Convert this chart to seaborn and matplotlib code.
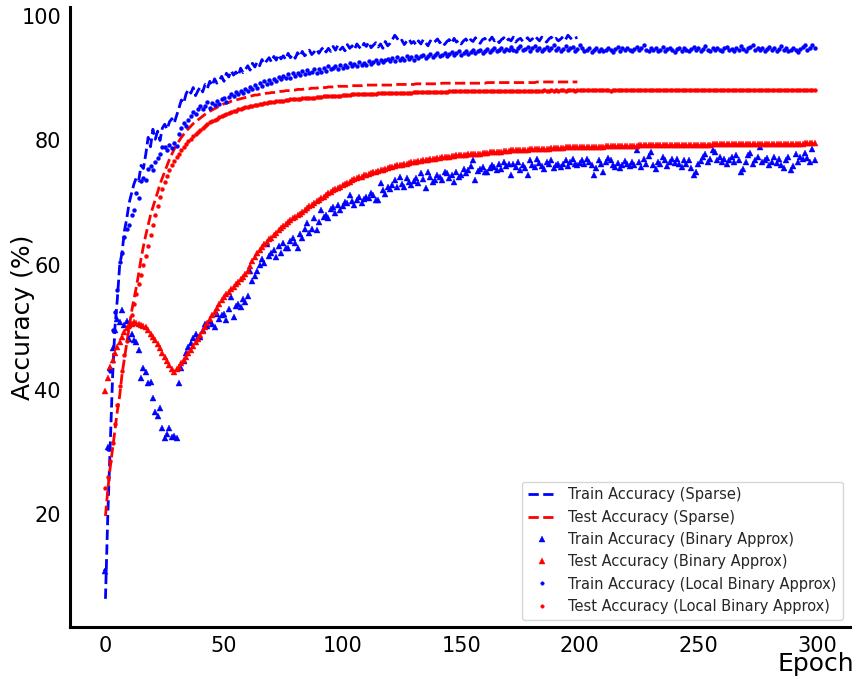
import numpy as np
import pandas as pd
import matplotlib
matplotlib.use("Agg")
import matplotlib.pyplot as plt
import seaborn as sns

# accuracy per epoch
train_sparse = [
    6.4, 20.0, 31.0, 42.0, 50.0, 54.5, 60.0, 62.0, 65.5, 67.5,
    70.0, 71.5, 73.0, 74.0, 73.5, 76.0, 75.5, 77.8, 80.5, 79.0,
    81.8, 80.2, 81.5, 80.0, 82.0, 82.6, 81.8, 83.0, 83.5, 82.8,
    84.0, 85.2, 86.5, 86.0, 87.5, 88.2, 87.6, 88.5, 87.2, 88.0,
    88.6, 87.8, 89.0, 88.4, 89.5, 88.8, 89.9, 89.2, 89.6, 90.3,
    89.5, 90.8, 90.2, 91.2, 90.5, 91.0, 90.4, 91.6, 90.9, 91.4,
    92.0, 91.3, 92.4, 91.8, 92.6, 92.0, 93.0, 92.3, 92.8, 93.3,
    92.6, 93.5, 92.9, 93.8, 93.1, 93.6, 93.0, 94.0, 93.3, 93.8,
    93.2, 94.1, 93.5, 94.3, 93.6, 94.0, 94.5, 93.8, 94.2, 94.7,
    94.0, 94.6, 95.0, 94.2, 94.8, 94.3, 95.1, 94.5, 95.3, 94.6,
    95.0, 94.4, 95.4, 94.8, 95.2, 94.6, 95.5, 95.0, 94.7, 95.6,
    95.1, 95.8, 94.9, 95.3, 95.7, 95.0, 95.5, 94.8, 95.9, 95.2,
    95.6, 96.2, 96.9, 96.4, 95.8, 96.1, 95.4, 95.9, 96.3, 95.6,
    95.9, 95.3, 96.0, 95.5, 96.2, 95.7, 95.2, 96.0, 95.6, 95.9,
    96.3, 95.7, 96.0, 95.4, 95.9, 96.2, 95.6, 96.4, 95.8, 96.1,
    95.5, 96.0, 96.3, 95.7, 96.2, 95.9, 96.5, 96.0, 95.6, 96.2,
    96.4, 95.8, 96.1, 96.6, 96.0, 96.3, 95.7, 96.2, 96.5, 95.9,
    96.3, 96.0, 96.6, 95.8, 96.2, 96.4, 95.9, 96.1, 96.5, 96.0,
    96.3, 96.8, 96.4, 96.0, 96.6, 96.2, 95.8, 96.3, 96.6, 96.1,
    96.4, 96.0, 96.3, 96.7, 96.2, 96.9, 96.5, 96.1, 96.4, 96.6,
]

test_sparse = [
    19.7, 24.0, 27.5, 30.5, 33.5, 36.5, 39.0, 42.5, 45.0, 47.5,
    50.0, 52.5, 54.5, 56.4, 58.6, 61.0, 63.0, 64.8, 66.4, 68.0,
    69.3, 70.5, 71.7, 73.0, 74.0, 75.0, 76.0, 77.0, 77.8, 78.6,
    79.3, 79.9, 80.5, 81.0, 81.5, 81.9, 82.3, 82.7, 83.0, 83.3,
    83.6, 83.9, 84.2, 84.5, 84.7, 84.9, 85.1, 85.3, 85.5, 85.7,
    85.9, 86.0, 86.1, 86.3, 86.4, 86.5, 86.6, 86.7, 86.8, 86.9,
    87.0, 87.1, 87.2, 87.3, 87.3, 87.4, 87.5, 87.5, 87.6, 87.6,
    87.7, 87.7, 87.8, 87.8, 87.9, 87.9, 88.0, 88.0, 88.0, 88.1,
    88.1, 88.2, 88.2, 88.2, 88.3, 88.3, 88.3, 88.4, 88.4, 88.4,
    88.5, 88.5, 88.5, 88.5, 88.6, 88.6, 88.6, 88.6, 88.7, 88.7,
    88.7, 88.7, 88.7, 88.8, 88.8, 88.8, 88.8, 88.8, 88.8, 88.9,
    88.9, 88.9, 88.9, 88.9, 88.9, 88.9, 88.9, 88.9, 88.9, 88.9,
    88.9, 88.9, 89.0, 89.0, 89.0, 89.0, 89.0, 89.0, 89.0, 89.0,
    89.0, 89.1, 89.1, 89.1, 89.1, 89.1, 89.1, 89.1, 89.1, 89.1,
    89.1, 89.1, 89.2, 89.2, 89.2, 89.2, 89.2, 89.2, 89.2, 89.2,
    89.2, 89.2, 89.2, 89.2, 89.2, 89.2, 89.2, 89.2, 89.2, 89.2,
    89.2, 89.3, 89.3, 89.3, 89.3, 89.3, 89.3, 89.3, 89.3, 89.3,
    89.3, 89.3, 89.3, 89.3, 89.3, 89.3, 89.3, 89.3, 89.3, 89.3,
    89.3, 89.3, 89.4, 89.4, 89.4, 89.4, 89.4, 89.4, 89.4, 89.4,
    89.4, 89.4, 89.4, 89.4, 89.4, 89.4, 89.4, 89.4, 89.4, 89.4,
]

train_binary = [
    10.9, 30.7, 43.5, 46.6, 49.5, 51.4, 50.8, 52.7, 50.4, 51.0,
    48.2, 49.0, 48.0, 47.6, 46.3, 41.8, 43.4, 42.8, 41.0, 41.2,
    38.7, 36.4, 35.8, 37.0, 33.9, 32.3, 32.8, 33.9, 32.4, 32.6,
    32.3, 41.1, 43.5, 44.6, 45.8, 46.8, 47.4, 48.3, 49.0, 48.4,
    48.4, 49.5, 50.6, 50.2, 51.0, 50.5, 50.0, 52.2, 51.4, 52.0,
    52.2, 51.1, 53.0, 54.8, 51.6, 53.5, 53.8, 53.2, 54.5, 54.0,
    55.1, 59.1, 57.5, 58.3, 59.1, 60.0, 61.0, 60.4, 63.4, 61.5,
    62.0, 62.4, 61.3, 63.0, 62.0, 63.5, 62.8, 62.7, 63.9, 64.4,
    63.6, 62.7, 65.0, 64.3, 65.8, 66.7, 65.2, 65.8, 67.5, 65.6,
    66.9, 68.8, 67.7, 68.0, 67.5, 69.0, 69.3, 68.4, 69.6, 68.9,
    69.4, 70.1, 69.9, 71.2, 70.3, 69.6, 70.5, 71.0, 69.9, 70.6,
    71.0, 70.8, 71.5, 71.2, 70.4, 70.4, 73.1, 72.0, 71.4, 72.5,
    72.2, 72.8, 73.6, 72.5, 74.2, 73.0, 72.6, 73.9, 73.4, 72.8,
    73.5, 74.0, 73.2, 74.7, 73.8, 72.3, 74.9, 74.2, 73.4, 73.6,
    74.5, 74.2, 73.7, 74.9, 74.7, 74.0, 74.5, 73.3, 75.0, 74.1,
    74.4, 75.4, 74.8, 75.2, 75.9, 76.8, 73.6, 75.1, 75.5, 75.8,
    74.9, 74.9, 75.6, 76.0, 75.7, 75.2, 76.2, 75.5, 76.5, 75.9,
    76.3, 74.4, 76.3, 75.8, 76.6, 75.2, 76.0, 75.6, 74.4, 76.8,
    76.1, 75.7, 77.1, 76.4, 75.9, 75.5, 76.6, 76.2, 76.8, 75.6,
    76.0, 76.3, 75.7, 76.3, 76.9, 75.9, 76.5, 77.0, 76.2, 76.0,
    76.4, 76.9, 76.2, 77.1, 76.6, 76.0, 74.5, 75.6, 76.8, 76.3,
    74.9, 76.5, 77.2, 76.8, 76.1, 75.8, 76.4, 75.6, 76.0, 76.7,
    76.2, 75.9, 76.5, 76.0, 78.4, 76.6, 75.8, 77.0, 76.3, 77.5,
    78.2, 76.1, 75.5, 76.6, 76.2, 77.3, 76.8, 75.9, 76.5, 77.1,
    76.4, 77.0, 76.3, 75.7, 76.8, 76.2, 76.9, 75.6, 74.5, 75.0,
    76.3, 76.7, 77.3, 77.8, 76.5, 77.1, 78.4, 78.2, 76.9, 77.4,
    76.6, 77.0, 76.2, 76.8, 77.3, 76.5, 77.6, 76.9, 75.0, 75.4,
    76.5, 77.6, 78.0, 76.3, 76.9, 77.4, 79.0, 76.5, 76.8, 77.2,
    76.0, 76.6, 77.3, 76.4, 77.0, 76.1, 75.6, 76.8, 77.4, 75.2,
    75.9, 77.8, 76.6, 77.4, 77.0, 78.0, 77.2, 76.5, 78.7, 76.8,
]

test_binary = [
    39.8, 41.8, 43.6, 44.8, 45.8, 46.8, 47.6, 48.4, 49.2, 49.9,
    50.3, 50.6, 50.8, 50.7, 50.6, 50.4, 50.2, 50.0, 49.5, 49.0,
    48.4, 47.9, 47.3, 46.6, 45.9, 45.3, 44.6, 43.9, 43.3, 42.9,
    43.3, 43.7, 44.2, 44.7, 45.2, 45.8, 46.4, 47.0, 47.6, 48.2,
    48.8, 49.4, 50.0, 50.7, 51.3, 51.9, 52.5, 53.1, 53.7, 54.4,
    54.9, 55.3, 55.7, 56.1, 56.5, 56.9, 57.3, 57.7, 58.1, 58.5,
    59.0, 59.9, 60.7, 61.3, 61.9, 62.4, 62.9, 63.3, 63.7, 64.1,
    64.4, 64.8, 65.2, 65.6, 66.0, 66.3, 66.6, 66.9, 67.2, 67.5,
    67.7, 68.0, 68.2, 68.5, 68.8, 69.1, 69.4, 69.7, 70.0, 70.3,
    70.5, 70.8, 71.0, 71.3, 71.5, 71.7, 72.0, 72.2, 72.4, 72.6,
    72.8, 73.0, 73.2, 73.4, 73.6, 73.8, 73.9, 74.1, 74.2, 74.4,
    74.5, 74.6, 74.8, 74.9, 75.0, 75.1, 75.2, 75.3, 75.5, 75.6,
    75.7, 75.8, 75.9, 76.0, 76.0, 76.1, 76.2, 76.3, 76.4, 76.5,
    76.5, 76.6, 76.7, 76.7, 76.8, 76.9, 76.9, 77.0, 77.1, 77.1,
    77.2, 77.2, 77.3, 77.3, 77.4, 77.4, 77.5, 77.5, 77.6, 77.6,
    77.7, 77.7, 77.7, 77.8, 77.8, 77.8, 77.9, 77.9, 77.9, 78.0,
    78.0, 78.0, 78.1, 78.1, 78.1, 78.2, 78.2, 78.2, 78.3, 78.3,
    78.3, 78.4, 78.4, 78.4, 78.4, 78.5, 78.5, 78.5, 78.5, 78.6,
    78.6, 78.6, 78.6, 78.7, 78.7, 78.7, 78.7, 78.7, 78.8, 78.8,
    78.8, 78.8, 78.8, 78.8, 78.9, 78.9, 78.9, 78.9, 78.9, 78.9,
    79.0, 79.0, 79.0, 79.0, 79.0, 79.0, 79.0, 79.0, 79.0, 79.0,
    79.0, 79.1, 79.1, 79.1, 79.1, 79.1, 79.1, 79.1, 79.1, 79.1,
    79.1, 79.1, 79.1, 79.1, 79.1, 79.2, 79.2, 79.2, 79.2, 79.2,
    79.2, 79.2, 79.2, 79.2, 79.2, 79.2, 79.2, 79.2, 79.3, 79.3,
    79.3, 79.3, 79.3, 79.3, 79.3, 79.3, 79.3, 79.3, 79.3, 79.3,
    79.3, 79.3, 79.3, 79.3, 79.3, 79.3, 79.4, 79.4, 79.4, 79.4,
    79.4, 79.4, 79.4, 79.4, 79.4, 79.4, 79.4, 79.4, 79.4, 79.4,
    79.4, 79.4, 79.4, 79.4, 79.4, 79.5, 79.5, 79.5, 79.5, 79.5,
    79.5, 79.5, 79.5, 79.5, 79.5, 79.5, 79.5, 79.5, 79.5, 79.5,
    79.5, 79.5, 79.5, 79.5, 79.5, 79.6, 79.6, 79.6, 79.6, 79.6,
]

train_local = [
    11.0, 30.5, 43.0, 49.5, 52.5, 56.0, 60.5, 62.0, 64.5, 65.8,
    66.5, 68.0, 68.8, 71.5, 70.8, 73.5, 74.0, 73.6, 75.4, 75.9,
    75.2, 76.6, 77.2, 77.8, 78.9, 79.0, 78.4, 79.3, 78.8, 79.6,
    79.1, 81.0, 82.0, 82.8, 82.4, 83.3, 84.0, 84.5, 84.2, 85.0,
    85.5, 85.1, 85.6, 86.1, 85.2, 86.0, 85.7, 86.4, 85.9, 86.6,
    86.8, 86.2, 87.0, 87.5, 87.2, 87.8, 87.4, 88.0, 87.6, 88.3,
    88.0, 88.6, 88.2, 88.9, 88.5, 89.2, 88.7, 89.5, 89.0, 89.7,
    89.3, 89.9, 89.5, 90.2, 89.8, 90.4, 90.0, 90.6, 90.1, 90.8,
    90.3, 90.9, 90.5, 91.1, 90.6, 91.3, 90.8, 91.0, 91.5, 90.9,
    91.4, 91.0, 91.7, 91.2, 91.9, 91.4, 91.6, 92.0, 91.5, 92.1,
    91.7, 92.2, 91.8, 92.4, 91.9, 92.3, 92.0, 92.6, 92.1, 92.5,
    92.2, 92.8, 92.3, 92.6, 92.9, 92.4, 93.0, 92.6, 92.9, 93.1,
    92.7, 93.2, 92.8, 93.4, 93.0, 93.3, 92.9, 93.5, 93.1, 93.4,
    93.0, 93.6, 93.2, 93.5, 93.8, 93.3, 93.6, 93.9, 93.4, 93.7,
    94.0, 93.5, 93.8, 94.1, 93.6, 93.9, 94.2, 93.7, 94.0, 94.3,
    93.8, 94.1, 94.4, 93.9, 94.2, 94.5, 94.0, 94.3, 94.6, 94.1,
    94.4, 94.7, 94.2, 94.5, 94.8, 94.3, 94.6, 94.9, 94.4, 94.7,
    94.5, 95.0, 94.6, 94.3, 94.8, 95.1, 94.5, 94.7, 95.0, 94.4,
    94.8, 95.2, 94.6, 94.9, 94.4, 94.7, 95.0, 94.5, 94.8, 95.3,
    94.6, 94.9, 94.3, 94.7, 95.1, 94.5, 94.8, 95.0, 94.4, 94.7,
    95.4, 94.9, 94.3, 94.6, 94.8, 94.2, 94.5, 94.9, 94.4, 94.7,
    94.3, 94.6, 94.9, 94.5, 94.2, 94.7, 95.0, 94.4, 94.8, 94.5,
    94.9, 94.6, 94.3, 94.7, 95.0, 94.5, 94.8, 95.3, 94.6, 94.4,
    94.8, 94.5, 94.9, 94.3, 94.6, 95.0, 94.4, 94.7, 94.9, 94.5,
    94.2, 94.7, 94.9, 94.4, 94.8, 94.6, 94.3, 94.7, 95.0, 94.5,
    94.8, 94.4, 94.7, 95.1, 94.6, 94.3, 94.8, 94.5, 94.9, 94.6,
    94.4, 94.8, 95.0, 94.5, 94.7, 94.3, 94.9, 94.6, 95.2, 94.7,
    94.4, 94.8, 95.0, 95.3, 94.6, 94.9, 94.5, 94.8, 94.3, 94.7,
    95.0, 94.6, 94.9, 94.4, 94.7, 95.1, 94.5, 94.8, 94.3, 94.6,
    94.9, 94.5, 94.2, 94.7, 95.0, 95.3, 94.6, 94.9, 95.4, 94.8,
]

test_local = [
    24.2, 26.0, 28.5, 31.5, 34.5, 37.5, 40.5, 43.0, 45.5, 47.8,
    50.0, 52.0, 53.7, 55.3, 56.9, 58.4, 60.0, 61.5, 63.0, 64.8,
    66.5, 68.0, 69.5, 70.9, 72.2, 73.3, 74.3, 75.2, 76.0, 76.7,
    77.3, 77.9, 78.4, 78.9, 79.4, 79.9, 80.3, 80.7, 81.1, 81.4,
    81.7, 82.0, 82.3, 82.6, 82.9, 83.1, 83.3, 83.5, 83.7, 83.9,
    84.1, 84.3, 84.4, 84.6, 84.7, 84.8, 85.0, 85.1, 85.2, 85.3,
    85.4, 85.5, 85.6, 85.7, 85.7, 85.8, 85.9, 86.0, 86.0, 86.1,
    86.2, 86.2, 86.3, 86.3, 86.4, 86.4, 86.5, 86.5, 86.6, 86.6,
    86.6, 86.7, 86.7, 86.8, 86.8, 86.8, 86.9, 86.9, 86.9, 87.0,
    87.0, 87.0, 87.1, 87.1, 87.1, 87.1, 87.2, 87.2, 87.2, 87.2,
    87.3, 87.3, 87.3, 87.3, 87.4, 87.4, 87.4, 87.4, 87.4, 87.5,
    87.5, 87.5, 87.5, 87.5, 87.5, 87.6, 87.6, 87.6, 87.6, 87.6,
    87.6, 87.6, 87.7, 87.7, 87.7, 87.7, 87.7, 87.7, 87.7, 87.7,
    87.8, 87.8, 87.8, 87.8, 87.8, 87.8, 87.8, 87.8, 87.8, 87.8,
    87.8, 87.8, 87.8, 87.8, 87.8, 87.9, 87.9, 87.9, 87.9, 87.9,
    87.9, 87.9, 87.9, 87.9, 87.9, 87.9, 87.9, 87.9, 87.9, 87.9,
    87.9, 87.9, 88.0, 88.0, 88.0, 88.0, 88.0, 88.0, 88.0, 88.0,
    88.0, 88.0, 88.0, 88.0, 88.0, 88.0, 88.0, 88.0, 88.0, 88.0,
    88.0, 88.0, 88.0, 88.0, 88.0, 88.1, 88.0, 88.0, 88.1, 88.0,
    88.1, 88.0, 88.1, 88.1, 88.0, 88.1, 88.1, 88.1, 88.0, 88.1,
    88.1, 88.1, 88.1, 88.1, 88.1, 88.1, 88.1, 88.1, 88.1, 88.1,
    88.1, 88.1, 88.1, 88.0, 88.1, 88.1, 88.1, 88.1, 88.1, 88.1,
    88.1, 88.1, 88.1, 88.1, 88.1, 88.1, 88.1, 88.1, 88.1, 88.1,
    88.1, 88.1, 88.1, 88.1, 88.1, 88.1, 88.1, 88.1, 88.1, 88.1,
    88.1, 88.1, 88.1, 88.1, 88.1, 88.1, 88.1, 88.1, 88.1, 88.1,
    88.1, 88.1, 88.1, 88.1, 88.1, 88.1, 88.1, 88.1, 88.1, 88.1,
    88.1, 88.1, 88.1, 88.1, 88.1, 88.1, 88.1, 88.1, 88.1, 88.1,
    88.1, 88.1, 88.1, 88.1, 88.1, 88.1, 88.1, 88.1, 88.1, 88.1,
    88.1, 88.1, 88.1, 88.1, 88.1, 88.1, 88.1, 88.1, 88.1, 88.1,
    88.1, 88.1, 88.1, 88.1, 88.1, 88.1, 88.1, 88.1, 88.1, 88.1,
]

X_TICKS = [0, 50, 100, 150, 200, 250, 300]
Y_TICKS = [20, 40, 60, 80, 100]

sns.set_style("white")
plt.rcParams['font.family'] = ['DejaVu Sans']

fig = plt.figure(figsize=(8.59, 6.79), dpi=100)
ax = fig.add_axes([0.0815, 0.0766, 0.908, 0.913])


def series_df(values):
    return pd.DataFrame({'epoch': np.arange(len(values)), 'acc': values})


# dashed curves for the sparse model
sns.lineplot(data=series_df(train_sparse), x='epoch', y='acc', ax=ax,
             color='#0000ff', linestyle='--', linewidth=2,
             label='Train Accuracy (Sparse)')
sns.lineplot(data=series_df(test_sparse), x='epoch', y='acc', ax=ax,
             color='#ff0000', linestyle='--', linewidth=2,
             label='Test Accuracy (Sparse)')

# marker-only series
marker_series = [
    (train_binary, '#0000ff', '^', 4.2, 'Train Accuracy (Binary Approx)'),
    (test_binary, '#ff0000', '^', 4.2, 'Test Accuracy (Binary Approx)'),
    (train_local, '#0000ff', 'o', 2.8, 'Train Accuracy (Local Binary Approx)'),
    (test_local, '#ff0000', 'o', 2.8, 'Test Accuracy (Local Binary Approx)'),
]
for values, col, mk, ms, lab in marker_series:
    sns.lineplot(data=series_df(values), x='epoch', y='acc', ax=ax,
                 color=col, linestyle='', marker=mk, markersize=ms,
                 markeredgecolor=col, markeredgewidth=0.3, label=lab)

ax.set_xticks(X_TICKS)
ax.set_yticks(Y_TICKS)
ax.tick_params(axis='both', labelsize=15, labelcolor='black',
               length=3, width=1.5, color='black')

ax.set_xlabel('Epoch', fontsize=18, loc='right', color='black')
ax.xaxis.set_label_coords(1.005, -0.04)
ax.set_ylabel('Accuracy (%)', fontsize=18, color='black')
ax.yaxis.set_label_coords(-0.045, 0.5)

sns.despine(ax=ax)
for side in ['left', 'bottom']:
    ax.spines[side].set_color('black')
    ax.spines[side].set_linewidth(2.2)

leg = ax.legend(loc='lower right', fontsize=10.5, frameon=True,
                markerscale=0.9, borderaxespad=0.5)
leg.get_frame().set_edgecolor('#cccccc')

fig.savefig('out.png', dpi=100)
